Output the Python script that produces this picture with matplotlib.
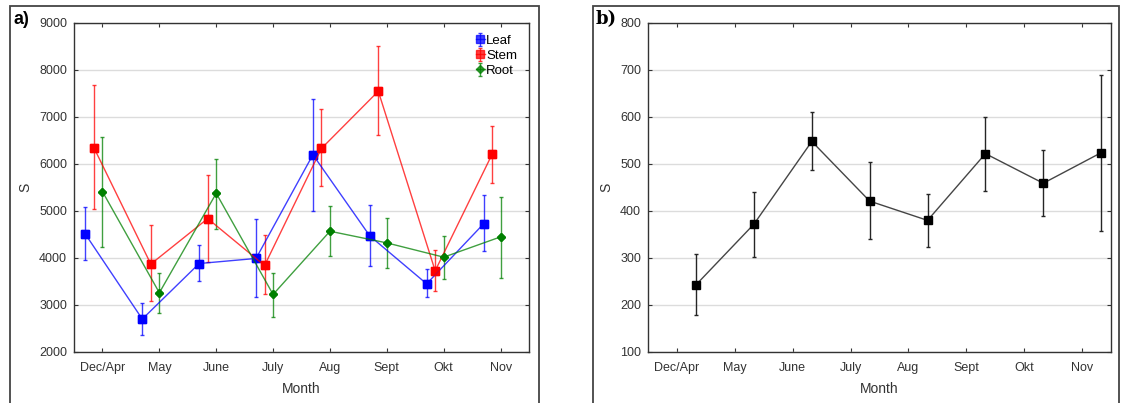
import matplotlib.pyplot as plt
from matplotlib.patches import Rectangle
import numpy as np

plt.rcParams['font.family'] = ['Liberation Sans', 'DejaVu Sans']

months = ['Dec/Apr', 'May', 'June', 'July', 'Aug', 'Sept', 'Okt', 'Nov']

leaf = [4505, 2700, 3882, 3990, 6197, 4470, 3450, 4725]
leaf_hi = [5080, 3040, 4270, 4820, 7390, 5120, 3760, 5330]
leaf_lo = [3950, 2360, 3520, 3180, 5000, 3820, 3160, 4150]

stem = [6345, 3870, 4838, 3840, 6330, 7548, 3727, 6204]
stem_hi = [7680, 4700, 5770, 4490, 7160, 8520, 4180, 6810]
stem_lo = [5050, 3080, 3920, 3230, 5530, 6610, 3300, 5590]

root = [5411, 3260, 5376, 3224, 4569, 4321, 4017, 4449]
root_hi = [6580, 3690, 6110, 3690, 5100, 4860, 4460, 5290]
root_lo = [4240, 2830, 4610, 2740, 4040, 3780, 3560, 3580]

total = [243, 372, 548, 421, 380, 522, 459, 524]
total_hi = [308, 441, 610, 504, 437, 599, 529, 689]
total_lo = [178, 302, 488, 340, 323, 443, 389, 358]


def yerr(mean, lo, hi):
    m = np.array(mean)
    return [m - np.array(lo), np.array(hi) - m]


def style_axes(ax, yticks):
    ax.set_xticks(range(len(months)))
    ax.set_xticklabels(months)
    ax.set_xlim(-0.5, 7.5)
    ax.set_yticks(yticks)
    ax.set_ylim(yticks[0], yticks[-1])
    ax.yaxis.grid(True, color='#dcdcdc', lw=1)
    ax.set_axisbelow(True)
    ax.tick_params(direction='in', top=True, right=True, length=3,
                   labelsize=9, labelcolor='#333333', color='#333333')
    ax.tick_params(axis='x', pad=7)
    ax.tick_params(axis='y', pad=5)
    for s in ax.spines.values():
        s.set_color('#333333')
        s.set_linewidth(1)
    ax.set_xlabel('Month', fontsize=10, color='#333333', labelpad=6)
    ax.set_ylabel('S', fontsize=10, color='#333333', labelpad=5)


fig = plt.figure(figsize=(11.27, 4.03), dpi=100)
ax1 = fig.add_axes([0.0657, 0.1266, 0.4037, 0.8164])
ax2 = fig.add_axes([0.575, 0.1266, 0.4108, 0.8164])

x = np.arange(len(months))
ax1.errorbar(x - 0.3, leaf, yerr=yerr(leaf, leaf_lo, leaf_hi), color='#0000ff',
             marker='s', ms=6, lw=1, capsize=1.5, elinewidth=1, label='Leaf', alpha=0.75)
ax1.errorbar(x - 0.15, stem, yerr=yerr(stem, stem_lo, stem_hi), color='#ff0000',
             marker='s', ms=5.5, lw=1, capsize=1.5, elinewidth=1, label='Stem', alpha=0.75)
ax1.errorbar(x, root, yerr=yerr(root, root_lo, root_hi), color='#008000',
             marker='D', ms=4, lw=1, capsize=1.5, elinewidth=1, label='Root', alpha=0.75)
# solid markers on top
ax1.plot(x - 0.3, leaf, 's', color='#0000ff', ms=6, ls='none')
ax1.plot(x - 0.15, stem, 's', color='#ff0000', ms=5.5, ls='none')
ax1.plot(x, root, 'D', color='#008000', ms=4, ls='none')
style_axes(ax1, list(range(2000, 9001, 1000)))
ax1.legend(loc='upper right', frameon=False, fontsize=9.5, handlelength=0.7,
           handletextpad=0.1, labelspacing=0.2, borderaxespad=0.5)

ax2.errorbar(x + 0.33, total, yerr=yerr(total, total_lo, total_hi), color='#454545',
             marker='s', ms=6, mfc='black', mec='black', lw=1, capsize=1.5,
             elinewidth=1, ecolor='#252525')
style_axes(ax2, list(range(100, 801, 100)))

W, H = 1127, 403
for x0, x1 in [(10, 539), (593, 1119)]:
    fig.patches.append(Rectangle((x0 / W, -0.05), (x1 - x0) / W, 1.05 - 6 / H,
                                 transform=fig.transFigure, fill=False,
                                 ec='#444444', lw=1.3))
fig.text(13 / W, 1 - 19 / H, 'a)', fontsize=13, fontweight='bold', va='center')
fig.text(596 / W, 1 - 19 / H, 'b)', fontsize=13, fontweight='bold', va='center',
         family='DejaVu Serif')

fig.savefig('out.png', dpi=100)
